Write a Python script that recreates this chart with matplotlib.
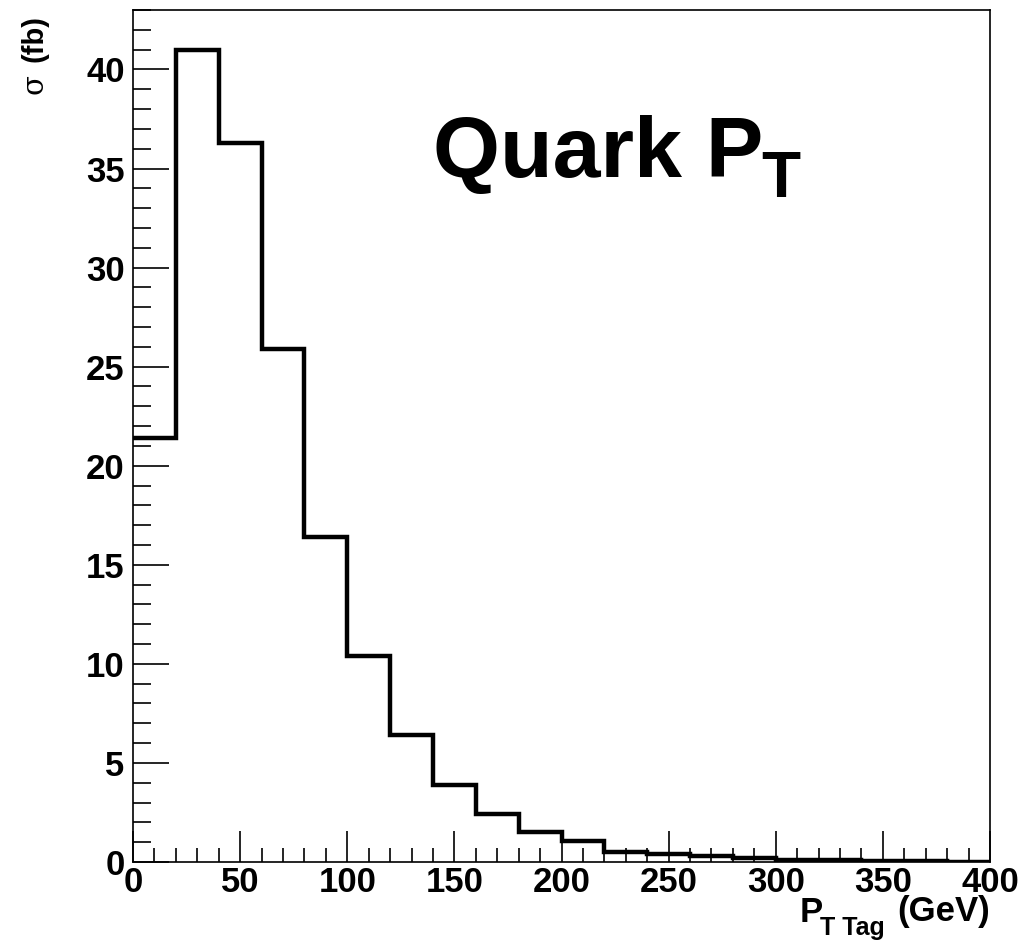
import numpy as np
import matplotlib.pyplot as plt
from matplotlib.ticker import MultipleLocator

# bin edges (GeV) and cross section per bin (fb)
bin_edges = np.arange(0, 420, 20)
sigma_fb = [21.4, 41.0, 36.3, 25.9, 16.4, 10.4, 6.4, 3.9, 2.4, 1.5,
            1.05, 0.52, 0.40, 0.28, 0.18, 0.12, 0.09, 0.07, 0.05, 0.01]

plt.rcParams['font.family'] = ['Liberation Sans', 'DejaVu Sans']

fig = plt.figure(figsize=(10.2, 9.48), dpi=100)
ax = fig.add_axes([133 / 1020, 1 - 862 / 948, (990 - 133) / 1020, (862 - 10) / 948])

ax.stairs(sigma_fb, bin_edges, color='black', linewidth=3.2, baseline=None)

ax.set_xlim(0, 400)
ax.set_ylim(0, 43)

ax.xaxis.set_major_locator(MultipleLocator(50))
ax.xaxis.set_minor_locator(MultipleLocator(10))
ax.yaxis.set_major_locator(MultipleLocator(5))
ax.yaxis.set_minor_locator(MultipleLocator(1))

ax.tick_params(which='both', direction='in', top=False, right=False, width=1.2)
ax.tick_params(axis='x', which='major', length=22, pad=3, labelsize=25)
ax.tick_params(axis='x', which='minor', length=10)
ax.tick_params(axis='y', which='major', length=26, pad=6, labelsize=25)
ax.tick_params(axis='y', which='minor', length=13)
for lab in ax.get_xticklabels() + ax.get_yticklabels():
    lab.set_fontweight('bold')

for sp in ax.spines.values():
    sp.set_linewidth(1.2)

# x axis title, ROOT style at the right end
fig.text(990 / 1020, 1 - 912 / 948, '(GeV)', ha='right', va='center',
         fontsize=25, fontweight='bold')
fig.text(800 / 1020, 1 - 912 / 948, 'P', ha='left', va='center',
         fontsize=25, fontweight='bold')
fig.text(820 / 1020, 1 - 928 / 948, 'T Tag', ha='left', va='center',
         fontsize=18, fontweight='bold')

# y axis title at the top
fig.text(35 / 1020, 1 - 84 / 948, 'σ', rotation=90, ha='center', va='center',
         fontsize=21, family='DejaVu Serif')
fig.text(35 / 1020, 1 - 38 / 948, '(fb)', rotation=90, ha='center', va='center',
         fontsize=21, fontweight='bold')

ax.text(0.35, 0.83, 'Quark P', transform=ax.transAxes, fontsize=62,
        fontweight='bold', ha='left', va='center')
ax.text(0.733, 0.80, 'T', transform=ax.transAxes, fontsize=46,
        fontweight='bold', ha='left', va='center')

fig.savefig('out.png', dpi=100)
